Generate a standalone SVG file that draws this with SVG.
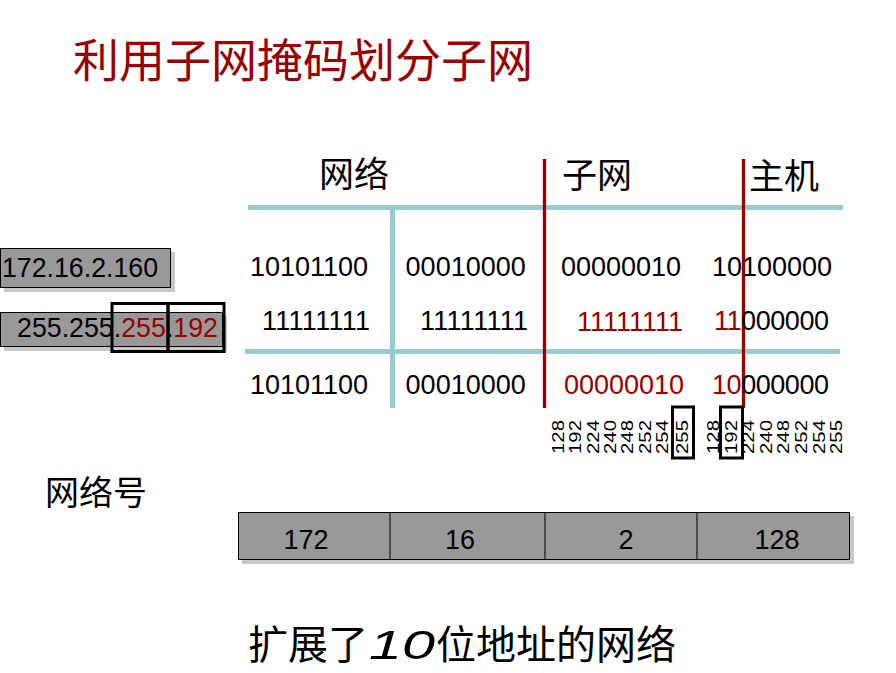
<svg xmlns="http://www.w3.org/2000/svg" width="896" height="673" viewBox="0 0 896 673">
<defs>
<style>
.cjk{font-family:"Noto Sans CJK SC","Noto Sans",sans-serif;fill:#000}
.num{font-family:"Liberation Sans",Arial,sans-serif;font-size:27px;fill:#000}
.red{fill:#990000}
.box{fill:#999999;stroke:#000;stroke-width:1}
.shadow{fill:#c8c8c8}
.hl{fill:none;stroke:#000;stroke-width:3}
.teal{stroke:#99cccc;stroke-width:5;fill:none}
.rline{stroke:#990000;stroke-width:3.3;fill:none}
.rot{font-family:"Liberation Sans",Arial,sans-serif;font-size:17px;fill:#000}
</style>
</defs>
<rect width="896" height="673" fill="#fff"/>

<g id="title">
<text class="cjk" x="73" y="77" font-size="46" style="fill:#990000">利用子网掩码划分子网</text>
</g>

<g id="headers">
<text class="cjk" x="319" y="187" font-size="35">网络</text>
<text class="cjk" x="562" y="188" font-size="35">子网</text>
<text class="cjk" x="749" y="189" font-size="35">主机</text>
</g>

<g id="connectors">
<line class="teal" x1="248" y1="207.5" x2="843" y2="207.5"/>
<line class="teal" x1="245" y1="351.5" x2="840" y2="351.5"/>
<line class="teal" x1="392.5" y1="207" x2="392.5" y2="408"/>
<line class="rline" x1="544.5" y1="159" x2="544.5" y2="408"/>
<line class="rline" x1="743.5" y1="159" x2="743.5" y2="408"/>
</g>

<g id="ip-box">
<rect class="shadow" x="4" y="252" width="171" height="40"/>
<rect class="box" x="0.5" y="248.5" width="170" height="39"/>
<text class="num" x="2" y="277" font-size="28" textLength="156" lengthAdjust="spacingAndGlyphs">172.16.2.160</text>
</g>

<g id="mask-box">
<rect class="shadow" x="4" y="316" width="223" height="35"/>
<rect class="box" x="0.5" y="312.5" width="222" height="34"/>
<text class="num" x="17" y="337" font-size="28" textLength="201" lengthAdjust="spacingAndGlyphs">255.255.<tspan class="red">255</tspan>.<tspan class="red">192</tspan></text>
<rect class="hl" x="112" y="303.5" width="56" height="48"/>
<rect class="hl" x="168" y="303.5" width="56" height="48"/>
</g>

<g id="row-ip">
<text class="num" x="250" y="276">10101100</text>
<text class="num" x="405.6" y="276">00010000</text>
<text class="num" x="561" y="276">00000010</text>
<text class="num" x="712" y="276">10100000</text>
</g>

<g id="row-mask">
<text class="num" x="262" y="329.5" textLength="108" lengthAdjust="spacing">11111111</text>
<text class="num" x="420" y="329.5" textLength="108" lengthAdjust="spacing">11111111</text>
<text class="num red" x="577" y="331" textLength="106" lengthAdjust="spacing">11111111</text>
<text class="num" x="714" y="329.5" textLength="115" lengthAdjust="spacing"><tspan class="red">11</tspan>000000</text>
</g>

<g id="row-net">
<text class="num" x="250" y="394">10101100</text>
<text class="num" x="405.6" y="394">00010000</text>
<text class="num red" x="564" y="394">00000010</text>
<text class="num" x="712" y="394" textLength="117" lengthAdjust="spacing"><tspan class="red">10</tspan>000000</text>
</g>

<g id="mask-values-1">
<text class="rot" transform="translate(564,454) rotate(-90)" textLength="34" lengthAdjust="spacingAndGlyphs">128</text>
<text class="rot" transform="translate(581.3,454) rotate(-90)" textLength="34" lengthAdjust="spacingAndGlyphs">192</text>
<text class="rot" transform="translate(598.6,454) rotate(-90)" textLength="34" lengthAdjust="spacingAndGlyphs">224</text>
<text class="rot" transform="translate(615.9,454) rotate(-90)" textLength="34" lengthAdjust="spacingAndGlyphs">240</text>
<text class="rot" transform="translate(633.2,454) rotate(-90)" textLength="34" lengthAdjust="spacingAndGlyphs">248</text>
<text class="rot" transform="translate(650.5,454) rotate(-90)" textLength="34" lengthAdjust="spacingAndGlyphs">252</text>
<text class="rot" transform="translate(667.8,454) rotate(-90)" textLength="34" lengthAdjust="spacingAndGlyphs">254</text>
<text class="rot red" transform="translate(688,454) rotate(-90)" textLength="34" lengthAdjust="spacingAndGlyphs">255</text>
<rect class="hl" x="672.5" y="407" width="21" height="51"/>
</g>

<g id="mask-values-2">
<text class="rot" transform="translate(719,454) rotate(-90)" textLength="34" lengthAdjust="spacingAndGlyphs">128</text>
<text class="rot red" transform="translate(737,454) rotate(-90)" textLength="34" lengthAdjust="spacingAndGlyphs">192</text>
<text class="rot" transform="translate(754.2,454) rotate(-90)" textLength="34" lengthAdjust="spacingAndGlyphs">224</text>
<text class="rot" transform="translate(771.8,454) rotate(-90)" textLength="34" lengthAdjust="spacingAndGlyphs">240</text>
<text class="rot" transform="translate(789.4,454) rotate(-90)" textLength="34" lengthAdjust="spacingAndGlyphs">248</text>
<text class="rot" transform="translate(807,454) rotate(-90)" textLength="34" lengthAdjust="spacingAndGlyphs">252</text>
<text class="rot" transform="translate(824.6,454) rotate(-90)" textLength="34" lengthAdjust="spacingAndGlyphs">254</text>
<text class="rot" transform="translate(842.2,454) rotate(-90)" textLength="34" lengthAdjust="spacingAndGlyphs">255</text>
<rect class="hl" x="720.5" y="407" width="22" height="51"/>
</g>

<g id="net-label">
<text class="cjk" x="45" y="505" font-size="34">网络号</text>
</g>

<g id="net-bar">
<rect class="shadow" x="242" y="516" width="612" height="48"/>
<rect class="box" x="238.5" y="512.5" width="611" height="47"/>
<line x1="390" y1="512.5" x2="390" y2="559.5" stroke="#000" stroke-width="1"/>
<line x1="545" y1="512.5" x2="545" y2="559.5" stroke="#000" stroke-width="1"/>
<line x1="697" y1="512.5" x2="697" y2="559.5" stroke="#000" stroke-width="1"/>
<text class="num" x="306" y="549" text-anchor="middle">172</text>
<text class="num" x="460" y="549" text-anchor="middle">16</text>
<text class="num" x="626" y="549" text-anchor="middle">2</text>
<text class="num" x="777" y="549" text-anchor="middle">128</text>
</g>

<g id="caption">
<text class="cjk" y="659" font-size="40"><tspan x="248">扩展了</tspan><tspan x="369" font-family="Liberation Sans, sans-serif" font-style="italic" textLength="66" lengthAdjust="spacingAndGlyphs">10</tspan><tspan x="436">位地址的网络</tspan></text>
</g>
</svg>
